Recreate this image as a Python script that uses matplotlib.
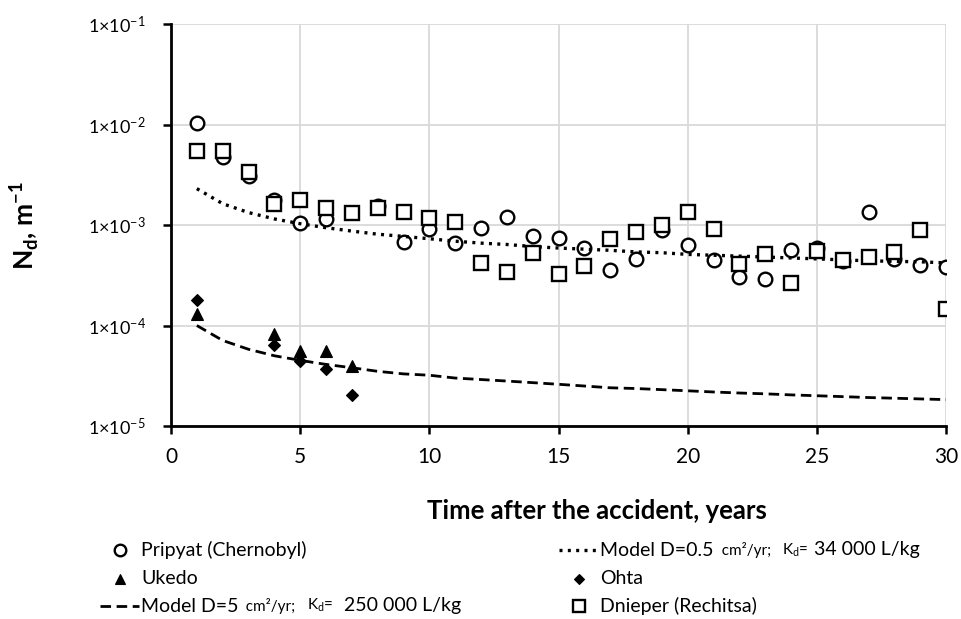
import math

import matplotlib
matplotlib.use("Agg")
import matplotlib.pyplot as plt
from matplotlib.lines import Line2D
from matplotlib.ticker import FixedLocator, FuncFormatter

plt.rcParams["font.family"] = ["Lato", "DejaVu Sans"]
plt.rcParams["mathtext.fontset"] = "custom"
plt.rcParams["mathtext.rm"] = "Lato"
plt.rcParams["mathtext.bf"] = "Lato:bold"

# --- data -----------------------------------------------------------------
pripyat_years = [1, 2, 3, 4, 5, 6, 8, 9, 10, 11, 12, 13, 14, 15, 16, 17, 18,
                 19, 20, 21, 22, 23, 24, 25, 26, 27, 28, 29, 30]
pripyat_nd = [1.03e-2, 4.7e-3, 3.05e-3, 1.76e-3, 1.05e-3, 1.16e-3, 1.55e-3,
              6.8e-4, 9.2e-4, 6.6e-4, 9.3e-4, 1.2e-3, 7.8e-4, 7.4e-4, 5.9e-4,
              3.6e-4, 4.6e-4, 8.9e-4, 6.3e-4, 4.5e-4, 3.05e-4, 2.93e-4,
              5.6e-4, 5.9e-4, 4.4e-4, 1.35e-3, 4.6e-4, 4.0e-4, 3.8e-4]

dnieper_years = list(range(1, 31))
dnieper_nd = [5.4e-3, 5.4e-3, 3.4e-3, 1.62e-3, 1.79e-3, 1.48e-3, 1.33e-3,
              1.48e-3, 1.35e-3, 1.18e-3, 1.07e-3, 4.2e-4, 3.4e-4, 5.3e-4,
              3.26e-4, 3.95e-4, 7.3e-4, 8.6e-4, 9.9e-4, 1.35e-3, 9.1e-4,
              4.1e-4, 5.1e-4, 2.65e-4, 5.5e-4, 4.5e-4, 4.8e-4, 5.4e-4,
              9.0e-4, 1.46e-4]

ukedo_years = [1, 4, 5, 6, 7]
ukedo_nd = [1.29e-4, 8.2e-5, 5.6e-5, 5.6e-5, 3.95e-5]

ohta_years = [1, 4, 5, 6, 7]
ohta_nd = [1.79e-4, 6.4e-5, 4.4e-5, 3.7e-5, 2.04e-5]

model_years = list(range(1, 31))
model_d05 = [2.30e-3, 1.63e-3, 1.33e-3, 1.15e-3, 1.03e-3, 9.4e-4, 8.7e-4,
             8.1e-4, 7.7e-4, 7.3e-4, 6.9e-4, 6.6e-4, 6.4e-4, 6.1e-4, 5.9e-4,
             5.75e-4, 5.6e-4, 5.4e-4, 5.3e-4, 5.1e-4, 5.0e-4, 4.9e-4, 4.8e-4,
             4.7e-4, 4.6e-4, 4.5e-4, 4.4e-4, 4.35e-4, 4.3e-4, 4.2e-4]
model_d5 = [1.0e-4, 7.1e-5, 5.8e-5, 5.0e-5, 4.5e-5, 4.1e-5, 3.8e-5, 3.5e-5,
            3.3e-5, 3.2e-5, 3.0e-5, 2.9e-5, 2.8e-5, 2.7e-5, 2.6e-5, 2.5e-5,
            2.4e-5, 2.36e-5, 2.3e-5, 2.24e-5, 2.18e-5, 2.13e-5, 2.09e-5,
            2.04e-5, 2.0e-5, 1.96e-5, 1.92e-5, 1.89e-5, 1.86e-5, 1.83e-5]

x_ticks = [0, 5, 10, 15, 20, 25, 30]
y_ticks = [1e-5, 1e-4, 1e-3, 1e-2, 1e-1]

# --- figure ---------------------------------------------------------------
W, H = 961, 619
fig = plt.figure(figsize=(W / 100, H / 100), dpi=100)


def fx(px):
    return px / W


def fy(py):
    return 1 - py / H


ax = fig.add_axes([fx(171), fy(426), fx(946) - fx(171), fy(24) - fy(426)])
ax.set_yscale("log")
ax.set_xlim(0, 30)
ax.set_ylim(1e-5, 1e-1)

grid_c = "#d9d9d9"
ax.set_axisbelow(True)
ax.grid(True, which="major", color=grid_c, linewidth=1.3)
ax.grid(False, which="minor")

circle_kw = dict(marker="o", ms=9.8, mfc="white", mec="black", mew=1.7,
                 linestyle="none")
square_kw = dict(marker="s", ms=9.8, mfc="white", mec="black", mew=1.7,
                 linestyle="none")
tri_kw = dict(marker="^", ms=8.5, mfc="black", mec="black", mew=0.8,
              linestyle="none")
dia_kw = dict(marker="D", ms=6.0, mfc="black", mec="black", mew=0.8,
              linestyle="none")
dot_kw = dict(color="black", linewidth=2.4, linestyle=(0, (0.9, 1.6)),
              dash_capstyle="butt")
dash_kw = dict(color="black", linewidth=2.0, linestyle=(0, (3.8, 2.0)))

ax.plot(pripyat_years, pripyat_nd, zorder=3, **circle_kw)
ax.plot(model_years, model_d05, zorder=4, **dot_kw)
ax.plot(ukedo_years, ukedo_nd, zorder=5, **tri_kw)
ax.plot(ohta_years, ohta_nd, zorder=6, **dia_kw)
ax.plot(model_years, model_d5, zorder=4, **dash_kw)
ax.plot(dnieper_years, dnieper_nd, zorder=7, **square_kw)

for side in ("top", "right"):
    ax.spines[side].set_visible(False)
for side in ("left", "bottom"):
    ax.spines[side].set_linewidth(2.0)
    ax.spines[side].set_color("black")

ax.xaxis.set_major_locator(FixedLocator(x_ticks))
ax.yaxis.set_major_locator(FixedLocator(y_ticks))
ax.yaxis.set_minor_locator(FixedLocator([]))
ax.yaxis.set_major_formatter(FuncFormatter(
    lambda v, p: r"$\mathregular{1{\times}10^{%d}}$" % round(math.log10(v))))
ax.tick_params(axis="x", direction="out", length=6, width=1.8,
               labelsize=15, pad=9, colors="black")
ax.tick_params(axis="y", direction="out", length=6, width=1.8,
               labelsize=13, pad=12, colors="black")

fig.text(fx(597), fy(511), "Time after the accident, years", ha="center",
         va="center", fontsize=18.5, fontweight="bold")
fig.text(fx(24), fy(226), r"N$_\mathbf{d}$, m$^\mathbf{-1}$",
         rotation=90, ha="center", va="center", fontsize=19,
         fontweight="bold")

# --- legend (two columns under the plot) ----------------------------------
leg_fs = 14
small_fs = 11


def marker_entry(x_mark, x_text, y, label, kw):
    fig.add_artist(Line2D([fx(x_mark)], [fy(y)], transform=fig.transFigure,
                          **{**kw, "ms": kw["ms"] * 0.85}))
    fig.text(fx(x_text), fy(y), label, ha="left", va="center",
             fontsize=leg_fs)


def model_entry(x0, x1, y, d_text, kd_value, kw):
    fig.add_artist(Line2D([fx(x0), fx(x1)], [fy(y), fy(y)],
                          transform=fig.transFigure, **kw))
    t1 = fig.text(fx(x1 + 2), fy(y), d_text, ha="left", va="center",
                  fontsize=leg_fs)
    t2 = ax.annotate("  cm²/yr;   ", xy=(1, 0), xycoords=t1, ha="left",
                     va="bottom", fontsize=small_fs, annotation_clip=False)
    t3 = ax.annotate(r"K$_\mathregular{d}$=", xy=(1, 0), xycoords=t2,
                     ha="left", va="bottom", fontsize=small_fs,
                     annotation_clip=False)
    ax.annotate(kd_value, xy=(1, 0), xycoords=t3, ha="left", va="bottom",
                fontsize=leg_fs, annotation_clip=False)


row1, row2, row3 = 550, 579, 606
col1_key, col1_text = 120, 141
col2_key, col2_text = 579, 600

marker_entry(col1_key, col1_text, row1, "Pripyat (Chernobyl)", circle_kw)
marker_entry(col1_key, col1_text, row2, "Ukedo", tri_kw)
model_entry(col1_key - 20, col1_text - 2, row3, "Model D=5",
            "  250 000 L/kg", dash_kw)

model_entry(col2_key - 20, col2_text - 2, row1, "Model D=0.5",
            " 34 000 L/kg", dot_kw)
marker_entry(col2_key, col2_text, row2, "Ohta", dia_kw)
marker_entry(col2_key, col2_text, row3, "Dnieper (Rechitsa)", square_kw)

fig.savefig("out.png", dpi=100)
